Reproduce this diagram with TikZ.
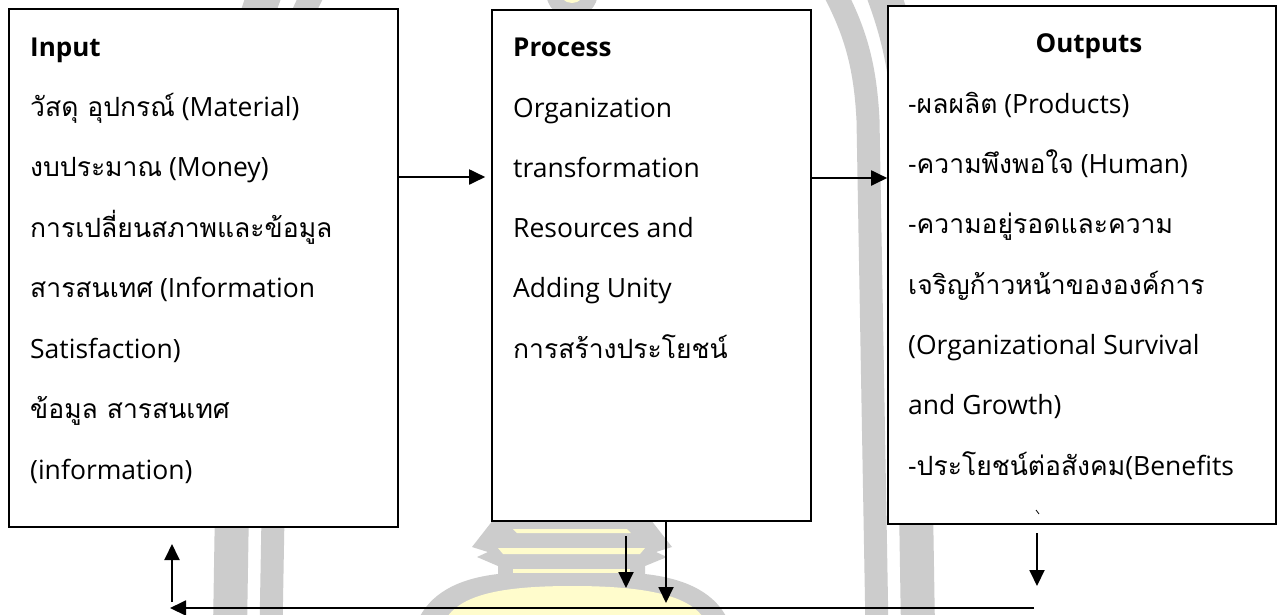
\documentclass[tikz,border=0pt]{standalone}
\usepackage{fontspec}
\setmainfont{Open Sans}
\newfontfamily\thaifont[Script=Thai]{Loma}
\usetikzlibrary{arrows.meta}
\newcommand{\thx}[1]{{\thaifont #1}}
\definecolor{wmgrey}{HTML}{CCCCCC}
\definecolor{wmyellow}{HTML}{FFFCCC}
\begin{document}
\begin{tikzpicture}[x=1pt,y=-1pt,
  box/.style={draw=black, line width=1.6pt, fill=white, inner sep=0pt, rectangle},
  txt/.style={anchor=base west, inner sep=0pt, font=\fontsize{26.5}{30}\selectfont},
  head/.style={anchor=base west, inner sep=0pt, font=\fontsize{26}{30}\selectfont\bfseries},
  arr/.style={line width=1.9pt, -{Triangle[length=16pt,width=15pt]}},
  wm/.style={wmgrey, line cap=butt},
]
\useasboundingbox (0,0) rectangle (1282,614);
\fill[white] (0,0) rectangle (1282,614);
% ---- watermark ----
\draw[wm, line width=34pt] (230,630) -- (238,130) .. controls (241,70) and (250,30) .. (270,-20);
\draw[wm, line width=23pt] (271,630) -- (280,120) .. controls (283,60) and (295,25) .. (320,-20);
\draw[wm, line width=23pt] (877,630) -- (868,120) .. controls (865,60) and (853,25) .. (828,-20);
\draw[wm, line width=34pt] (918,630) -- (910,130) .. controls (907,70) and (898,30) .. (878,-20);
\fill[wmgrey] (572,-8) circle (26pt);
\fill[wmyellow] (572,-10) circle (13pt);
\fill[wmgrey] (497,515) -- (647,515) -- (672,547) -- (656,552) -- (667,557) -- (645,566) -- (645,578)
  -- (498,578) -- (498,566) -- (477,557) -- (488,552) -- (472,547) -- cycle;
\fill[wmgrey] (498,574) .. controls (455,579) and (430,595) .. (418,620) -- (728,620)
  .. controls (716,595) and (690,579) .. (645,574) -- cycle;
\fill[wmyellow] (445,620) .. controls (460,595) and (500,586) .. (572,586)
  .. controls (645,586) and (690,595) .. (705,620) -- cycle;
\fill[wmyellow] (513,529) -- (627,529) -- (631,533) -- (517,533) -- cycle;
\fill[wmyellow] (498,548) -- (645,548) -- (640,554) -- (503,554) -- cycle;
\fill[wmyellow] (513,569) -- (630,569) -- (630,573) -- (513,573) -- cycle;
% ---- boxes ----
\node[box, minimum width=389pt, minimum height=518pt] (input) at (203.5,268) {};
\node[box, minimum width=319pt, minimum height=511pt] (process) at (651.5,265.5) {};
\node[box, minimum width=388pt, minimum height=518pt] (outputs) at (1082,265) {};
% ---- input text ----
\node[head] (in0) at (30,56) {Input};
\node[txt] (in1) at (30,116) {\thx{วัสดุ อุปกรณ์} (Material)};
\node[txt] (in2) at (30,176) {\thx{งบประมาณ} (Money)};
\node[txt] (in3) at (30,237) {\thx{การเปลี่ยนสภาพและข้อมูล}};
\node[txt] (in4) at (30,297) {\thx{สารสนเทศ} (Information};
\node[txt] (in5) at (30,358) {Satisfaction)};
\node[txt] (in6) at (30,418) {\thx{ข้อมูล สารสนเทศ}};
\node[txt] (in7) at (30,479) {(information)};
% ---- process text ----
\node[head] (pr0) at (513,56) {Process};
\node[txt] (pr1) at (513,117) {Organization};
\node[txt] (pr2) at (513,177) {transformation};
\node[txt] (pr3) at (513,237) {Resources and};
\node[txt] (pr4) at (513,297) {Adding Unity};
\node[txt] (pr5) at (513,358) {\thx{การสร้างประโยชน์}};
% ---- outputs text ----
\node[head, anchor=base] (ou0) at (1089,52) {Outputs};
\node[txt] (ou1) at (908,113) {-\thx{ผลผลิต} (Products)};
\node[txt] (ou2) at (908,173) {-\thx{ความพึงพอใจ} (Human)};
\node[txt] (ou3) at (908,233) {-\thx{ความอยู่รอดและความ}};
\node[txt] (ou4) at (908,294) {\thx{เจริญก้าวหน้าขององค์การ}};
\node[txt] (ou5) at (908,354) {(Organizational Survival};
\node[txt] (ou6) at (908,414) {and Growth)};
\node[txt] (ou7) at (908,475) {-\thx{ประโยชน์ต่อสังคม}(Benefits};
\draw[line width=0.8pt] (1036,510) -- (1039,514);
% ---- connectors ----
\coordinate (ya) at (0,177);
\coordinate (yb) at (0,178);
\draw[arr, shorten >=6pt] (input.east |- ya) -- (process.west |- ya);
\draw[arr] (process.east |- yb) -- (outputs.west |- yb);
\coordinate (d1s) at (626,536);
\coordinate (d1e) at (626,588);
\draw[arr] (d1s) -- (d1e);
\coordinate (d2x) at (666,0);
\coordinate (d2e) at (666,603);
\draw[arr] (process.south -| d2x) -- (d2e);
\coordinate (d3s) at (1037,533);
\coordinate (d3e) at (1037,586);
\draw[arr] (d3s) -- (d3e);
\coordinate (fbs) at (1034,608);
\coordinate (fbe) at (170,608);
\draw[arr] (fbs) -- (fbe);
\coordinate (ups) at (172,602);
\coordinate (upe) at (172,544);
\draw[arr] (ups) -- (upe);
\end{tikzpicture}
\end{document}
